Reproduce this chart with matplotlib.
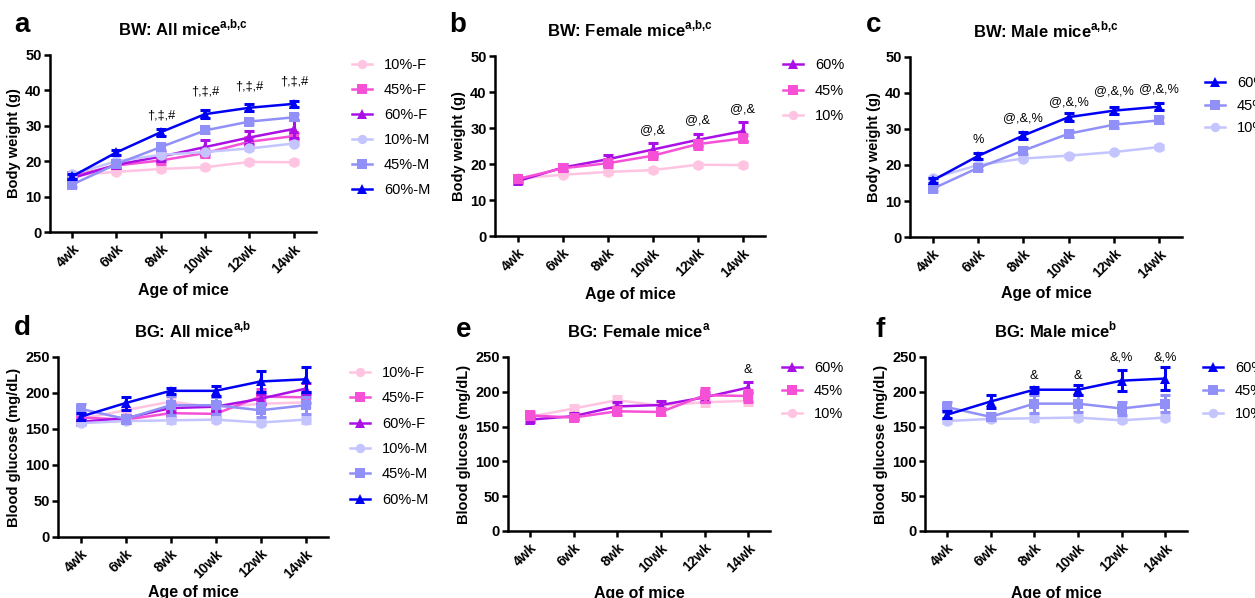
import matplotlib
matplotlib.use('Agg')
import matplotlib.pyplot as plt
import numpy as np

plt.rcParams['font.family'] = ['Liberation Sans', 'DejaVu Sans']
plt.rcParams['mathtext.fontset'] = 'custom'
plt.rcParams['mathtext.rm'] = 'Liberation Sans'
plt.rcParams['mathtext.bf'] = 'Liberation Sans:bold'

# --- data ---
weeks = ['4wk', '6wk', '8wk', '10wk', '12wk', '14wk']

# body weight (g), mean and error
bw_10f = [16.0, 17.0, 17.8, 18.3, 19.8, 19.7]
bw_45f = [15.8, 18.8, 20.2, 22.3, 25.5, 27.1]
bw_60f = [15.2, 19.0, 21.3, 24.0, 26.7, 29.1]
bw_10m = [16.3, 20.0, 21.8, 22.6, 23.6, 25.0]
bw_45m = [13.4, 19.2, 24.0, 28.7, 31.2, 32.4]
bw_60m = [15.7, 22.5, 28.2, 33.3, 35.1, 36.2]
bw_10f_err = [0.4, 0.4, 0.5, 0.5, 0.5, 0.5]
bw_45f_err = [0.5, 0.6, 0.9, 1.0, 1.2, 1.0]
bw_60f_err = [0.6, 0.9, 1.3, 1.9, 1.7, 2.6]
bw_10m_err = [0.4, 0.4, 0.4, 0.4, 0.4, 0.5]
bw_45m_err = [0.6, 0.6, 0.9, 0.8, 0.8, 0.8]
bw_60m_err = [0.6, 0.8, 1.0, 1.1, 1.0, 0.9]

# blood glucose (mg/dL), mean and error
bg_10f = [164, 176, 188, 180, 185, 187]
bg_45f = [166, 163, 172, 171, 195, 194]
bg_60f = [160, 165, 179, 181, 192, 206]
bg_10m = [158, 161, 162, 163, 159, 163]
bg_45m = [178, 164, 183, 183, 176, 183]
bg_60m = [167, 186, 203, 203, 216, 219]
bg_10f_err = [4, 5, 6, 6, 5, 6]
bg_45f_err = [5, 4, 6, 5, 10, 8]
bg_60f_err = [3, 4, 6, 6, 7, 8]
bg_10m_err = [3, 3, 4, 3, 3, 4]
bg_45m_err = [7, 5, 13, 12, 10, 12]
bg_60m_err = [5, 9, 4, 7, 15, 17]

# significance marks
bw_all_marks = ['', '', '†,‡,#', '†,‡,#', '†,‡,#', '†,‡,#']
bw_all_mark_y = [0, 0, 33.0, 39.6, 41.0, 42.6]
bw_fem_marks = ['', '', '', '@,&', '@,&', '@,&']
bw_fem_mark_y = [0, 0, 0, 29.4, 32.1, 35.2]
bw_male_marks = ['', '%', '@,&,%', '@,&,%', '@,&,%', '@,&,%']
bw_male_mark_y = [0, 26.9, 32.9, 37.4, 40.5, 41.2]
bg_fem_marks = ['', '', '', '', '', '&']
bg_fem_mark_y = [0, 0, 0, 0, 0, 232]
bg_male_marks = ['', '', '&', '&', '&,%', '&,%']
bg_male_mark_y = [0, 0, 222, 222, 250, 250]

colors = {'10f': '#FFC4E1', '45f': '#F550D6', '60f': '#AA10E6',
          '10m': '#C4C4FF', '45m': '#9090F8', '60m': '#0000F5'}
markers = {'10': 'o', '45': 's', '60': '^'}

W, H = 1255, 598
fig = plt.figure(figsize=(W / 100, H / 100), dpi=100)


def px_axes(left, top, right, bottom):
    return fig.add_axes([left / W, 1 - bottom / H, (right - left) / W, (bottom - top) / H])


def draw(ax, series, legend_order, ylim, yticks, ylabel, title, letter, letter_xy,
         marks, mark_y, leg_xy, leg_spacing, xlabelpad):
    x = np.arange(len(weeks))
    handles = {}
    for n, (key, lab, vals, err) in enumerate(series):
        c = colors[key]
        m = markers[key[:2]]
        ax.errorbar(x, vals, yerr=err, fmt='none', ecolor=c, elinewidth=2.2,
                    capsize=3.5, capthick=2.2, clip_on=False, zorder=3 + n * 0.1)
        h, = ax.plot(x, vals, color=c, marker=m, ms=7.5, lw=1.8, mew=0,
                     clip_on=False, zorder=3.05 + n * 0.1)
        handles[key] = (h, lab)
    ax.set_xlim(-0.5, 5.5)
    ax.set_ylim(*ylim)
    ax.set_yticks(yticks)
    ax.set_xticks(x)
    ax.set_xticklabels(weeks, rotation=45, ha='right', rotation_mode='anchor',
                       fontsize=10, fontweight='bold')
    for t in ax.get_yticklabels():
        t.set_fontsize(10.5)
        t.set_fontweight('bold')
    for s in ['top', 'right']:
        ax.spines[s].set_visible(False)
    for s in ['left', 'bottom']:
        ax.spines[s].set_linewidth(1.8)
    ax.tick_params(width=1.8, length=4, pad=2)
    ax.tick_params(axis='x', pad=3)
    ax.set_ylabel(ylabel, fontsize=10.5, fontweight='bold', labelpad=3)
    ax.set_xlabel('Age of mice', fontsize=11.5, fontweight='bold', labelpad=xlabelpad)
    ax.set_title(title, fontsize=12, fontweight='bold', pad=14)
    for i, (t, yv) in enumerate(zip(marks, mark_y)):
        if t:
            ax.text(i, yv, t, ha='center', va='center', fontsize=9.2)
    fig.text(letter_xy[0] / W, 1 - letter_xy[1] / H, letter, fontsize=20,
             fontweight='bold', va='center', ha='left')
    fig.legend([handles[k][0] for k in legend_order], [handles[k][1] for k in legend_order],
               loc='upper left', bbox_to_anchor=(leg_xy[0] / W, 1 - leg_xy[1] / H),
               frameon=False, fontsize=10.5, handlelength=1.4, handletextpad=0.8,
               labelspacing=leg_spacing, borderpad=0, borderaxespad=0, markerscale=0.9)


all_bw = [('10f', '10%-F', bw_10f, bw_10f_err), ('45f', '45%-F', bw_45f, bw_45f_err),
          ('60f', '60%-F', bw_60f, bw_60f_err), ('10m', '10%-M', bw_10m, bw_10m_err),
          ('45m', '45%-M', bw_45m, bw_45m_err), ('60m', '60%-M', bw_60m, bw_60m_err)]
fem_bw = [('10f', '10%', bw_10f, bw_10f_err), ('60f', '60%', bw_60f, bw_60f_err),
          ('45f', '45%', bw_45f, bw_45f_err)]
male_bw = [('10m', '10%', bw_10m, bw_10m_err), ('45m', '45%', bw_45m, bw_45m_err),
           ('60m', '60%', bw_60m, bw_60m_err)]
all_bg = [('10f', '10%-F', bg_10f, bg_10f_err), ('45f', '45%-F', bg_45f, bg_45f_err),
          ('60f', '60%-F', bg_60f, bg_60f_err), ('10m', '10%-M', bg_10m, bg_10m_err),
          ('45m', '45%-M', bg_45m, bg_45m_err), ('60m', '60%-M', bg_60m, bg_60m_err)]
fem_bg = [('10f', '10%', bg_10f, bg_10f_err), ('60f', '60%', bg_60f, bg_60f_err),
          ('45f', '45%', bg_45f, bg_45f_err)]
male_bg = [('10m', '10%', bg_10m, bg_10m_err), ('45m', '45%', bg_45m, bg_45m_err),
           ('60m', '60%', bg_60m, bg_60m_err)]

all_order = ['10f', '45f', '60f', '10m', '45m', '60m']
fem_order = ['60f', '45f', '10f']
male_order = ['60m', '45m', '10m']

bw_ticks = [0, 10, 20, 30, 40, 50]
bg_ticks = [0, 50, 100, 150, 200, 250]

ax = px_axes(50, 55, 316, 232)
draw(ax, all_bw, all_order, (0, 50), bw_ticks, 'Body weight (g)',
     r'BW: All mice$^{\mathbf{a{,}b{,}c}}$',
     'a', (14, 25), bw_all_marks, bw_all_mark_y, (352, 58), 0.75, 5)

ax = px_axes(495, 56, 765, 236)
draw(ax, fem_bw, fem_order, (0, 50), bw_ticks, 'Body weight (g)',
     r'BW: Female mice$^{\mathbf{a{,}b{,}c}}$',
     'b', (449, 25), bw_fem_marks, bw_fem_mark_y, (783, 58), 0.8, 5)

ax = px_axes(910, 57, 1182, 237)
draw(ax, male_bw, male_order, (0, 50), bw_ticks, 'Body weight (g)',
     r'BW: Male mice$^{\mathbf{a{,}b{,}c}}$',
     'c', (866, 25), bw_male_marks, bw_male_mark_y, (1205, 76), 0.6, 4)

ax = px_axes(58, 357, 328, 537)
draw(ax, all_bg, all_order, (0, 250), bg_ticks, 'Blood glucose (mg/dL)',
     r'BG: All mice$^{\mathbf{a{,}b}}$',
     'd', (14, 328), [''] * 6, [0] * 6, (350, 366), 0.78, 3)

ax = px_axes(508, 357, 770, 531)
draw(ax, fem_bg, fem_order, (0, 250), bg_ticks, 'Blood glucose (mg/dL)',
     r'BG: Female mice$^{\mathbf{a}}$',
     'e', (456, 330), bg_fem_marks, bg_fem_mark_y, (782, 361), 0.62, 8)

ax = px_axes(925, 357, 1187, 531)
draw(ax, male_bg, male_order, (0, 250), bg_ticks, 'Blood glucose (mg/dL)',
     r'BG: Male mice$^{\mathbf{b}}$',
     'f', (875, 330), bg_male_marks, bg_male_mark_y, (1203, 361), 0.62, 8)

fig.savefig('out.png', dpi=100)
